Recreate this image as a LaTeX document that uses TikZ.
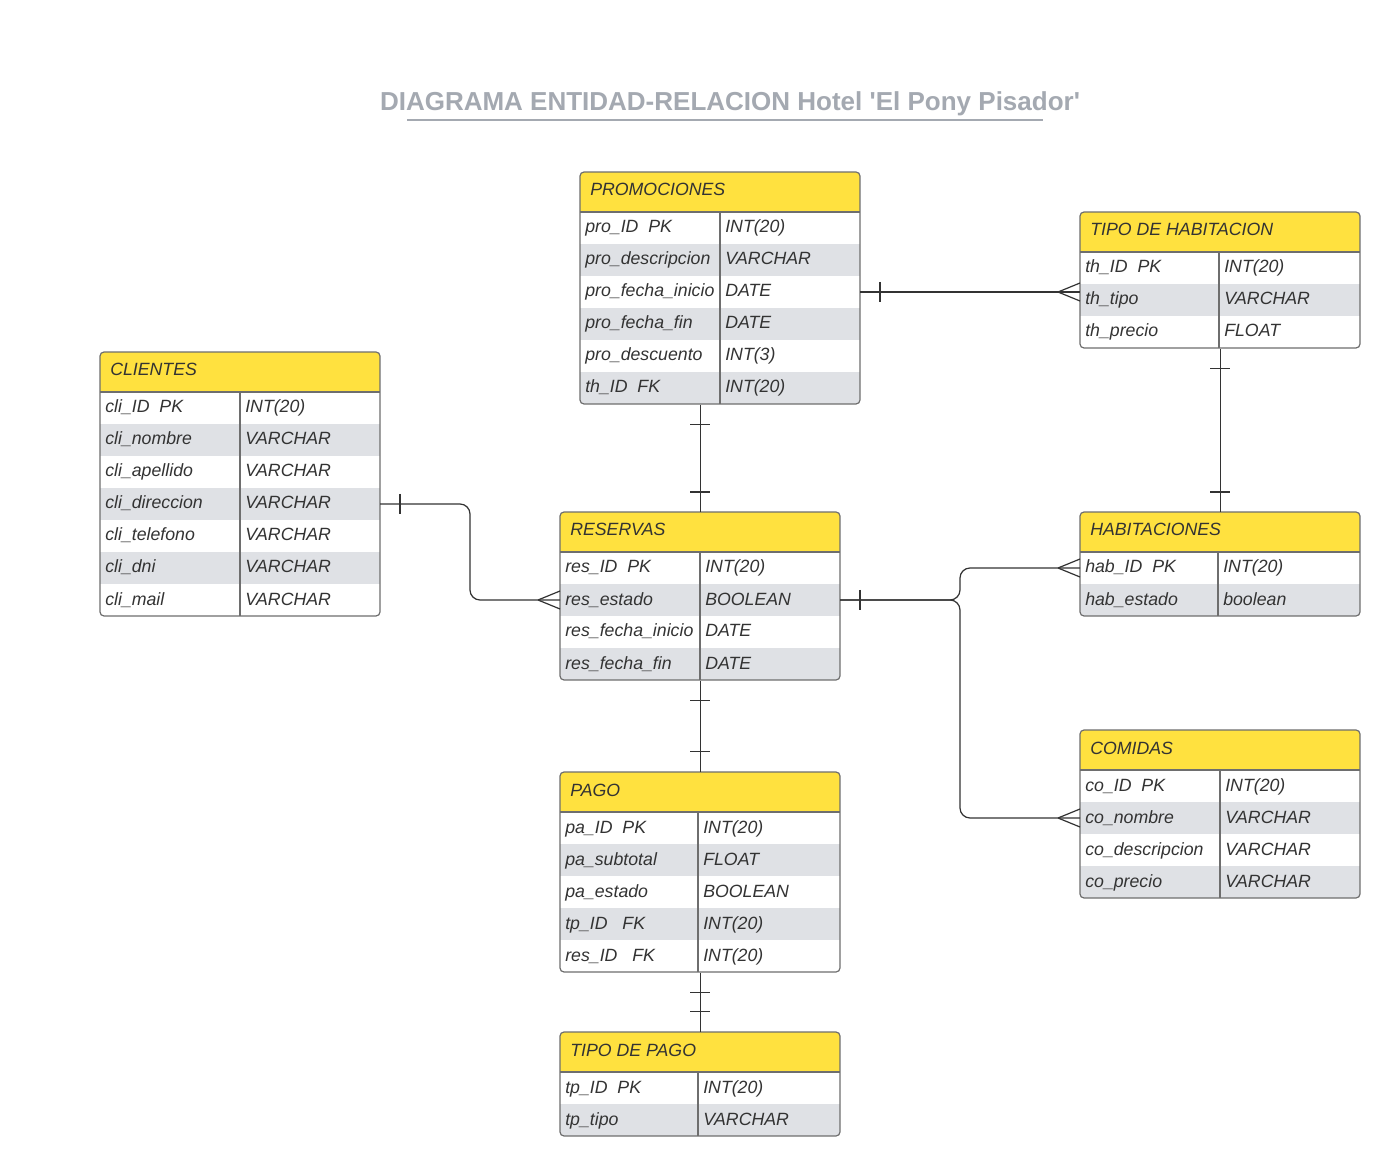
\documentclass[tikz,border=0pt]{standalone}
\usepackage{fontspec}
\setmainfont{Liberation Sans}
\usetikzlibrary{calc}
\definecolor{hdr}{HTML}{FFE13F}
\definecolor{rowg}{HTML}{DFE1E5}
\definecolor{bord}{HTML}{6E6E6E}
\definecolor{ink}{HTML}{333333}
\definecolor{ttl}{HTML}{A4A9B1}
\tikzset{
  conn/.style={draw=ink, line width=0.9pt},
  fld/.style={anchor=base west, inner sep=0pt, text=ink, font=\fontsize{13.3}{15}\selectfont\itshape},
  boxline/.style={draw=bord, line width=0.9pt},
}
% name, x, y, divider offset, number of rows, title, rows
\newcommand\ertab[7]{%
  \begin{scope}[shift={(#2,#3)}]
    \pgfmathsetmacro\H{40+32*#5}
    \begin{scope}
      \clip[rounded corners=3pt] (0,0) rectangle (280,\H);
      \fill[hdr] (0,0) rectangle (280,40);
      \foreach[count=\i] \f/\t in {#7}{%
        \ifodd\i\relax\else\fill[rowg] (0,{40+32*(\i-1)}) rectangle (280,{40+32*\i});\fi}
    \end{scope}
    \node[fld] (#1-title) at (10,24) {#6};
    \foreach[count=\i] \f/\t in {#7}{%
      \node[fld] (#1-f\i) at (5,{40+32*\i-11}) {\f};
      \node[fld] (#1-t\i) at ({#4+5},{40+32*\i-11}) {\t};
      \coordinate (#1-w\i) at (0,{40+32*\i-16});
      \coordinate (#1-e\i) at (280,{40+32*\i-16});
    }
    \draw[boxline] (0,40) -- (280,40) (#4,40) -- (#4,\H);
    \draw[boxline, rounded corners=3pt] (0,0) rectangle (280,\H);
    \node[inner sep=0pt, anchor=north west, minimum width=210pt, minimum height=\H*0.75pt] (#1) at (0,0) {};
  \end{scope}
}
\newcommand\crowW[1]{\draw[conn] ([xshift=-16.5pt]#1) -- ([yshift=6.75pt]#1) ([xshift=-16.5pt]#1) -- ([yshift=-6.75pt]#1);}
\newcommand\tickV[2]{\draw[conn] ([xshift=#2]#1) ++(0,-10) -- ++(0,20);}
\newcommand\tickH[2]{\draw[conn] ([yshift=#2]#1) ++(-10,0) -- ++(20,0);}
\begin{document}
\begin{tikzpicture}[x=0.75pt, y=-0.75pt]
\useasboundingbox (0,0) rectangle (1400,1176);
\fill[white] (0,0) rectangle (1400,1176);

\node[font=\bfseries\fontsize{19.5}{22}\selectfont, text=ttl] (title) at (730,104)
  {DIAGRAMA ENTIDAD-RELACION Hotel \textquotesingle El Pony Pisador\textquotesingle};
\draw[ttl, line width=1.4pt] (407,120) -- (1043,120);

\ertab{promo}{580}{172}{140}{6}{PROMOCIONES}{pro\_ID\ \ PK/INT(20), pro\_descripcion/VARCHAR, pro\_fecha\_inicio/DATE, pro\_fecha\_fin/DATE, pro\_descuento/INT(3), th\_ID\ \ FK/INT(20)}
\ertab{tdh}{1080}{212}{139}{3}{TIPO DE HABITACION}{th\_ID\ \ PK/INT(20), th\_tipo/VARCHAR, th\_precio/FLOAT}
\ertab{cli}{100}{352}{140}{7}{CLIENTES}{cli\_ID\ \ PK/INT(20), cli\_nombre/VARCHAR, cli\_apellido/VARCHAR, cli\_direccion/VARCHAR, cli\_telefono/VARCHAR, cli\_dni/VARCHAR, cli\_mail/VARCHAR}
\ertab{res}{560}{512}{140}{4}{RESERVAS}{res\_ID\ \ PK/INT(20), res\_estado/BOOLEAN, res\_fecha\_inicio/DATE, res\_fecha\_fin/DATE}
\ertab{hab}{1080}{512}{138}{2}{HABITACIONES}{hab\_ID\ \ PK/INT(20), hab\_estado/boolean}
\ertab{com}{1080}{730}{140}{4}{COMIDAS}{co\_ID\ \ PK/INT(20), co\_nombre/VARCHAR, co\_descripcion/VARCHAR, co\_precio/VARCHAR}
\ertab{pago}{560}{772}{138}{5}{PAGO}{pa\_ID\ \ PK/INT(20), pa\_subtotal/FLOAT, pa\_estado/BOOLEAN, tp\_ID\ \ \ FK/INT(20), res\_ID\ \ \ FK/INT(20)}
\ertab{tpago}{560}{1032}{138}{2}{TIPO DE PAGO}{tp\_ID\ \ PK/INT(20), tp\_tipo/VARCHAR}

% PROMOCIONES - TIPO DE HABITACION
\coordinate (c1) at (promo-e3 -| tdh.west);
\draw[conn] (promo-e3) -- (c1);
\tickV{promo-e3}{15pt}
\crowW{c1}

% PROMOCIONES - RESERVAS
\coordinate (c2) at (promo.south -| res.north);
\draw[conn] (c2) -- (res.north);
\tickH{c2}{-15pt}
\tickH{res.north}{15pt}

% TIPO DE HABITACION - HABITACIONES
\draw[conn] (tdh.south) -- (hab.north);
\tickH{tdh.south}{-15pt}
\tickH{hab.north}{15pt}

% CLIENTES - RESERVAS
\draw[conn, rounded corners=7.5pt] (cli-e4) -| ($(cli-e4)!0.5!(res-w2)$) |- (res-w2);
\tickV{cli-e4}{15pt}
\crowW{res-w2}

% RESERVAS - HABITACIONES / COMIDAS
\coordinate (jn) at ([xshift=90pt]res-e2);
\draw[conn, rounded corners=7.5pt] (res-e2) -| (jn |- hab-w1) -- (hab-w1);
\draw[conn, rounded corners=7.5pt] (res-e2) -| (jn |- com-w2) -- (com-w2);
\tickV{res-e2}{15pt}
\crowW{hab-w1}
\crowW{com-w2}

% RESERVAS - PAGO
\draw[conn] (res.south) -- (pago.north);
\tickH{res.south}{-15pt}
\tickH{pago.north}{15.5pt}

% PAGO - TIPO DE PAGO
\draw[conn] (pago.south) -- (tpago.north);
\tickH{pago.south}{-15pt}
\tickH{tpago.north}{15.5pt}
\end{tikzpicture}
\end{document}
